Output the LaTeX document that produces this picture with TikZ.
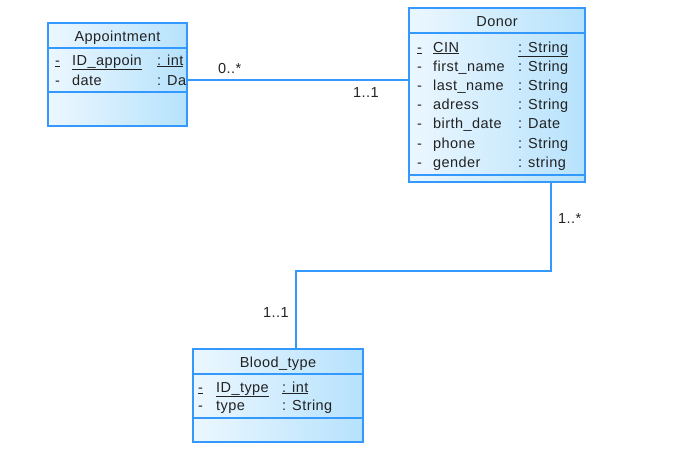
\documentclass[tikz,border=0pt]{standalone}
\usepackage{fontspec}
\setmainfont{Liberation Sans}[LetterSpace=3]
\definecolor{umlblue}{RGB}{51,153,255}
\definecolor{cellL}{RGB}{236,247,255}
\definecolor{cellR}{RGB}{182,226,252}
\definecolor{ink}{RGB}{34,34,34}
\begin{document}
\begin{tikzpicture}[x=1pt,y=-1pt,
  umlline/.style={draw=umlblue, line width=1.4pt},
  classframe/.style={inner sep=0, outer sep=0},
  cell/.style={left color=cellL, right color=cellR},
  txt/.style={anchor=base west, inner sep=0, font=\fontsize{14.5}{17}\selectfont, text=ink},
  title/.style={txt, anchor=base},
  mult/.style={txt}]
\useasboundingbox (0,0) rectangle (679,469);

% class frames
\node[classframe, minimum width=139pt, minimum height=103pt] (appt) at (117.5,74.5) {};
\node[classframe, minimum width=176pt, minimum height=174pt] (donor) at (497,95) {};
\node[classframe, minimum width=170pt, minimum height=93pt] (blood) at (278,395.5) {};

% compartments: Appointment
\shade[cell] (appt.north west) rectangle (appt.east |- 0,48);
\shade[cell] (appt.west |- 0,48) rectangle (appt.east |- 0,92);
\shade[cell] (appt.west |- 0,92) rectangle (appt.south east);
\draw[umlline] (appt.west |- 0,48) -- (appt.east |- 0,48);
\draw[umlline] (appt.west |- 0,92) -- (appt.east |- 0,92);
\draw[umlline] (appt.north west) rectangle (appt.south east);

% compartments: Donor
\shade[cell] (donor.north west) rectangle (donor.east |- 0,33);
\shade[cell] (donor.west |- 0,33) rectangle (donor.east |- 0,175);
\shade[cell] (donor.west |- 0,175) rectangle (donor.south east);
\draw[umlline] (donor.west |- 0,33) -- (donor.east |- 0,33);
\draw[umlline] (donor.west |- 0,175) -- (donor.east |- 0,175);
\draw[umlline] (donor.north west) rectangle (donor.south east);

% compartments: Blood_type
\shade[cell] (blood.north west) rectangle (blood.east |- 0,374);
\shade[cell] (blood.west |- 0,374) rectangle (blood.east |- 0,418);
\shade[cell] (blood.west |- 0,418) rectangle (blood.south east);
\draw[umlline] (blood.west |- 0,374) -- (blood.east |- 0,374);
\draw[umlline] (blood.west |- 0,418) -- (blood.east |- 0,418);
\draw[umlline] (blood.north west) rectangle (blood.south east);

% Appointment text
\node[title] (apptT) at (117.5,41) {Appointment};
\node[txt] (apptV1) at (55,65) {\underline{-}};
\node[txt] (apptN1) at (72,65) {\underline{ID\_appoin}};
\node[txt] (apptY1) at (157,65) {\underline{: int}};
\node[txt] (apptV2) at (55,85.5) {-};
\node[txt] (apptN2) at (72,85.5) {date};
\node[txt] (apptY2) at (157,85.5) {: Da};

% Donor text
\node[title] (donorT) at (497,26) {Donor};
\node[txt] (dV1) at (417,52) {\underline{-}};
\node[txt] (dN1) at (433,52) {\underline{CIN}};
\node[txt] (dY1) at (518,52) {\underline{: String}};
\node[txt] (dV2) at (417,71.2) {-};
\node[txt] (dN2) at (433,71.2) {first\_name};
\node[txt] (dY2) at (518,71.2) {: String};
\node[txt] (dV3) at (417,90.4) {-};
\node[txt] (dN3) at (433,90.4) {last\_name};
\node[txt] (dY3) at (518,90.4) {: String};
\node[txt] (dV4) at (417,109.6) {-};
\node[txt] (dN4) at (433,109.6) {adress};
\node[txt] (dY4) at (518,109.6) {: String};
\node[txt] (dV5) at (417,128.8) {-};
\node[txt] (dN5) at (433,128.8) {birth\_date};
\node[txt] (dY5) at (518,128.8) {: Date};
\node[txt] (dV6) at (417,148) {-};
\node[txt] (dN6) at (433,148) {phone};
\node[txt] (dY6) at (518,148) {: String};
\node[txt] (dV7) at (417,167.2) {-};
\node[txt] (dN7) at (433,167.2) {gender};
\node[txt] (dY7) at (518,167.2) {: string};

% Blood_type text
\node[title] (bloodT) at (278,367) {Blood\_type};
\node[txt] (bV1) at (198,392) {\underline{-}};
\node[txt] (bN1) at (216,392) {\underline{ID\_type}};
\node[txt] (bY1) at (282,392) {\underline{: int}};
\node[txt] (bV2) at (198,410.5) {-};
\node[txt] (bN2) at (216,410.5) {type};
\node[txt] (bY2) at (282,410.5) {: String};

% associations
\draw[umlline] ([yshift=-5.5pt]appt.east) -- ([yshift=-5.5pt]appt.east -| donor.west);
\coordinate (bend) at (551,271);
\draw[umlline] ([xshift=54pt]donor.south) -- (bend) -| ([xshift=18pt]blood.north);

% multiplicities
\node[mult] (m1) at (218,73) {0..*};
\node[mult] (m2) at (353,97) {1..1};
\node[mult] (m3) at (558,223) {1..*};
\node[mult] (m4) at (263,317) {1..1};
\end{tikzpicture}
\end{document}
